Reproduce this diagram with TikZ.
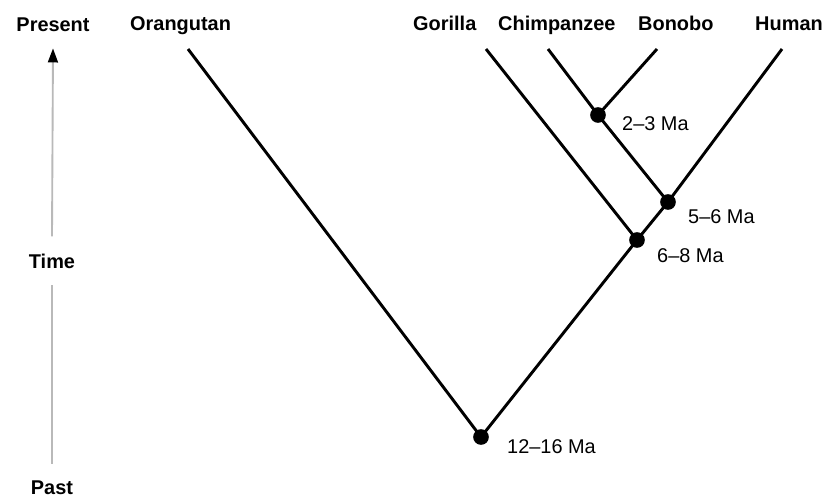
\documentclass[tikz,border=0pt]{standalone}
\usepackage{fontspec}
\setmainfont{Liberation Sans}
\usetikzlibrary{arrows.meta}

\begin{document}
\begin{tikzpicture}[x=0.03cm, y=-0.03cm,
  taxon/.style={anchor=base west, inner sep=0pt, font=\fontsize{17}{20}\selectfont\bfseries},
  age/.style={anchor=base west, inner sep=0pt, font=\fontsize{17}{20}\selectfont},
  axislabel/.style={anchor=base, inner xsep=0pt, inner ysep=14.5pt, font=\fontsize{17}{20}\selectfont\bfseries},
  axisline/.style={line width=1.6pt, gray!55},
  branch/.style={line width=2.5pt},
  split/.style={circle, fill, inner sep=0pt, minimum size=0.47cm}]
\useasboundingbox (0,0) rectangle (824,499);

% time axis
\node[axislabel] (present) at (53,31) {Present};
\node[axislabel] (time) at (52,268) {Time};
\node[axislabel] (past) at (52,494.5) {Past};
\draw[axisline, -{Triangle[length=12pt, width=8.5pt, black]}] (time.north) -- (present.south);
\draw[axisline] (time.south) -- (past.north);

% species
\node[taxon] (orangutan) at (130,30) {Orangutan};
\node[taxon] (gorilla) at (413,30) {Gorilla};
\node[taxon] (chimp) at (498,30) {Chimpanzee};
\node[taxon] (bonobo) at (638,30) {Bonobo};
\node[taxon] (human) at (755,30) {Human};

\coordinate (orangutan-tip) at (188,49);
\coordinate (gorilla-tip) at (486,49);
\coordinate (chimp-tip) at (548,49);
\coordinate (bonobo-tip) at (657,49);
\coordinate (human-tip) at (782,49);

% divergence points
\node[split] (pan) at (598,115) {};
\node[split] (hominini) at (668,202) {};
\node[split] (homininae) at (637,240) {};
\node[split] (hominidae) at (481,437) {};

\node[age] (pan-age) at (622,130) {2--3 Ma};
\node[age] (hominini-age) at (688,223) {5--6 Ma};
\node[age] (homininae-age) at (657,262) {6--8 Ma};
\node[age] (hominidae-age) at (507,453) {12--16 Ma};

% branches
\draw[branch] (chimp-tip) -- (pan.center);
\draw[branch] (bonobo-tip) -- (pan.center);
\draw[branch] (pan.center) -- (hominini.center);
\draw[branch] (human-tip) -- (hominini.center);
\draw[branch] (hominini.center) -- (homininae.center);
\draw[branch] (gorilla-tip) -- (homininae.center);
\draw[branch] (homininae.center) -- (hominidae.center);
\draw[branch] (orangutan-tip) -- (hominidae.center);
\end{tikzpicture}
\end{document}
